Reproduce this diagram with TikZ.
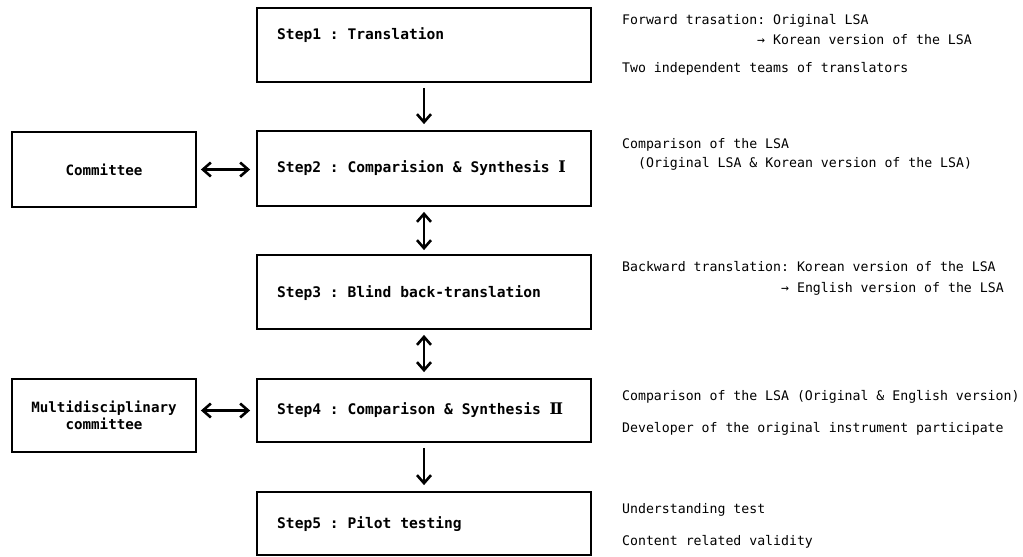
\documentclass[tikz,border=0pt]{standalone}
\usepackage{fontspec}
\setmonofont{DejaVu Sans Mono}
\newfontfamily\romnum{DejaVu Serif}
\usetikzlibrary{arrows.meta}
\begin{document}
\begin{tikzpicture}[x=1pt,y=1pt,
  stepbox/.style={draw,line width=1.8pt,minimum width=334pt,inner sep=0pt},
  sidebox/.style={draw,line width=1.8pt,minimum width=184pt,inner sep=0pt,font=\ttfamily\bfseries\fontsize{14.2}{21}\selectfont,align=center},
  steptext/.style={anchor=west,inner sep=0pt,font=\ttfamily\bfseries\fontsize{14.6}{17}\selectfont},
  note/.style={anchor=base west,inner sep=0pt,font=\ttfamily\fontsize{13.2}{15}\selectfont},
  conn/.style={line width=2.8pt,-{Straight Barb[length=8pt,width=14pt,line width=2.6pt]}},
  dconn/.style={line width=2.8pt,{Straight Barb[length=8pt,width=14pt,line width=2.6pt]}-{Straight Barb[length=8pt,width=14pt,line width=2.6pt]}}
]
\useasboundingbox (0,0) rectangle (1023,-557);
% step boxes
\node[stepbox,minimum height=74pt] (s1) at (424,-45) {};
\node[stepbox,minimum height=75pt] (s2) at (424,-168.5) {};
\node[stepbox,minimum height=74pt] (s3) at (424,-292) {};
\node[stepbox,minimum height=63pt] (s4) at (424,-410.5) {};
\node[stepbox,minimum height=63pt] (s5) at (424,-523.5) {};
\node[steptext] (t1) at (277,-35) {Step1 : Translation};
\node[steptext] (t2) at (277,-168) {Step2 : Comparision \& Synthesis {\romnum\bfseries\fontsize{16}{17}\selectfont Ⅰ}};
\node[steptext] (t3) at (277,-293) {Step3 : Blind back-translation};
\node[steptext] (t4) at (277,-410) {Step4 : Comparison \& Synthesis {\romnum\bfseries\fontsize{16}{17}\selectfont Ⅱ}};
\node[steptext] (t5) at (277,-524) {Step5 : Pilot testing};
% side boxes
\node[sidebox,minimum height=75pt] (c1) at (104,-169.5) {Committee};
\node[sidebox,minimum height=73pt] (c2) at (104,-415.5) {Multidisciplinary\\[-4pt]committee};
% connectors
\draw[conn,shorten <=5pt,shorten >=6pt] (s1.south) -- (s2.north);
\draw[dconn,shorten <=5pt,shorten >=4pt] (s2.south) -- (s3.north);
\draw[dconn,shorten <=5pt,shorten >=6pt] (s3.south) -- (s4.north);
\draw[conn,shorten <=5pt,shorten >=6pt] (s4.south) -- (s5.north);
\draw[dconn,shorten <=4pt,shorten >=6pt] (c1.east) -- (c1.east -| s2.west);
\draw[dconn,shorten <=4pt,shorten >=6pt] (c2.east |- s4.west) -- (s4.west);
% notes
\node[note] (n1) at (622,-24.8) {Forward trasation: Original LSA};
\node[note] (n2) at (757,-44.8) {→ Korean version of the LSA};
\node[note] (n3) at (622,-72.8) {Two independent teams of translators};
\node[note] (n4) at (622,-148.8) {Comparison of the LSA};
\node[note] (n5) at (638,-167.8) {(Original LSA \& Korean version of the LSA)};
\node[note] (n6) at (622,-271.8) {Backward translation: Korean version of the LSA};
\node[note] (n7) at (781,-292.8) {→ English version of the LSA};
\node[note] (n8) at (622,-400.8) {Comparison of the LSA (Original \& English version)};
\node[note] (n9) at (622,-432.8) {Developer of the original instrument participate};
\node[note] (n10) at (622,-513.8) {Understanding test};
\node[note] (n11) at (622,-545.8) {Content related validity};
\end{tikzpicture}
\end{document}
